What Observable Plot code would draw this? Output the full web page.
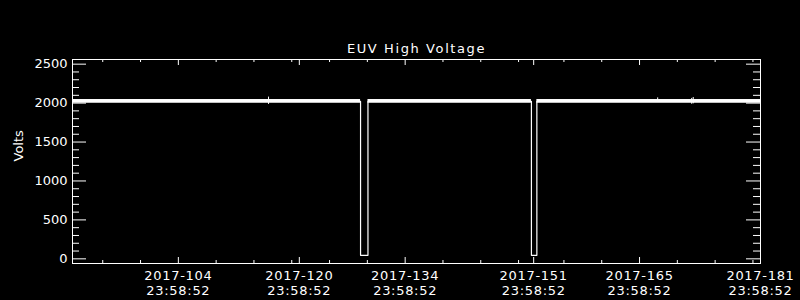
<!DOCTYPE html>
<html>
<head>
<meta charset="utf-8">
<script src="https://cdn.jsdelivr.net/npm/d3@7"></script>
<script src="https://cdn.jsdelivr.net/npm/@observablehq/plot@0.6"></script>
<style>
html, body { margin: 0; padding: 0; background: #000; }
</style>
</head>
<body>
<div id="chart"></div>
<script>
// ---- data (x = day of year 2017, each at 23:58:52) ----
const title = "EUV High Voltage";
const yLabel = "Volts";

// main trace with the two voltage drops
const traceDays  = [90, 128.1, 128.1, 129.08, 129.08, 150.7, 150.7, 151.42, 151.42, 181];
const traceVolts = [2022, 2022, 45, 45, 2022, 2022, 45, 45, 2022, 2022];

// noisy band around the nominal voltage
const bandStart = [90, 129.08, 151.42];
const bandEnd   = [128.1, 150.7, 181];
const bandLow   = [1998, 1998, 1998];
const bandHigh  = [2046, 2046, 2046];

// a few isolated spikes
const spikeDays = [115.93, 167.4, 171.9, 172.1];
const spikeLow  = [1983, 2010, 1985, 1990];
const spikeHigh = [2077, 2067, 2060, 2072];

// axes
const xMajor = [104, 120, 134, 151, 165, 181];
const xMajorLabels = ["2017-104\n23:58:52", "2017-120\n23:58:52", "2017-134\n23:58:52",
                      "2017-151\n23:58:52", "2017-165\n23:58:52", "2017-181\n23:58:52"];
const xMinor = [94, 99, 109, 114, 119, 124, 129, 139, 144, 149, 155, 160, 170, 175, 180];
const yMajor = [0, 500, 1000, 1500, 2000, 2500];
const yMinor = [100, 200, 300, 400, 600, 700, 800, 900, 1100, 1200, 1300, 1400,
                1600, 1700, 1800, 1900, 2100, 2200, 2300, 2400];

// ---- build tables ----
const trace = traceDays.map((d, i) => ({day: d, v: traceVolts[i]}));
const bands = bandStart.map((d, i) => ({x1: d, x2: bandEnd[i], y1: bandLow[i], y2: bandHigh[i]}));
const spikes = spikeDays.map((d, i) => ({day: d, y1: spikeLow[i], y2: spikeHigh[i]}));
const labelOf = new Map(xMajor.map((d, i) => [d, xMajorLabels[i]]));

const W = 800, H = 300, mL = 72, mR = 40, mT = 59, mB = 37;
const innerW = W - mL - mR, innerH = H - mT - mB;
const fg = "#fff";

const chart = Plot.plot({
  width: W, height: H,
  marginLeft: mL, marginRight: mR, marginTop: mT, marginBottom: mB,
  style: {background: "#000", color: fg, fontFamily: "DejaVu Sans", fontSize: "13px"},
  x: {domain: [90, 181]},
  y: {domain: [-60, 2560]},
  marks: [
    Plot.rect(bands, {x1: "x1", x2: "x2", y1: "y1", y2: "y2", fill: fg}),
    Plot.line(trace, {x: "day", y: "v", stroke: fg, strokeWidth: 1.2}),
    Plot.ruleX(spikes, {x: "day", y1: "y1", y2: "y2", stroke: fg}),
    Plot.frame({stroke: fg}),
    // x ticks bottom & top
    Plot.tickX(xMajor, {insetTop: innerH - 6, stroke: fg}),
    Plot.tickX(xMinor, {insetTop: innerH - 3, stroke: fg}),
    Plot.tickX(xMajor, {insetBottom: innerH - 6, stroke: fg}),
    Plot.tickX(xMinor, {insetBottom: innerH - 3, stroke: fg}),
    // y ticks left & right
    Plot.tickY(yMajor, {insetRight: innerW - 14, stroke: fg}),
    Plot.tickY(yMinor, {insetRight: innerW - 7, stroke: fg}),
    Plot.tickY(yMajor, {insetLeft: innerW - 14, stroke: fg}),
    Plot.tickY(yMinor, {insetLeft: innerW - 7, stroke: fg}),
    // tick labels
    Plot.axisX(xMajor, {tickSize: 0, tickPadding: 6, tickFormat: d => labelOf.get(d),
                        lineHeight: 1.15, fill: fg, label: null}),
    Plot.axisY(yMajor, {tickSize: 0, tickPadding: 5, fill: fg, label: null, tickFormat: d => String(d)}),
    // titles
    Plot.text([title], {frameAnchor: "top", lineAnchor: "bottom", dy: -7, fill: fg, fontSize: 13}),
    Plot.text([yLabel], {frameAnchor: "left", dx: -54, rotate: -90, fill: fg, fontSize: 13})
  ]
});

d3.select(chart).selectAll("text")
  .filter(function () { return this.textContent === title; })
  .attr("letter-spacing", "1.6px");
d3.select(chart).selectAll("g[aria-label='x-axis tick label'] text")
  .attr("letter-spacing", "0.7px");
document.getElementById("chart").appendChild(chart);
</script>
</body>
</html>
